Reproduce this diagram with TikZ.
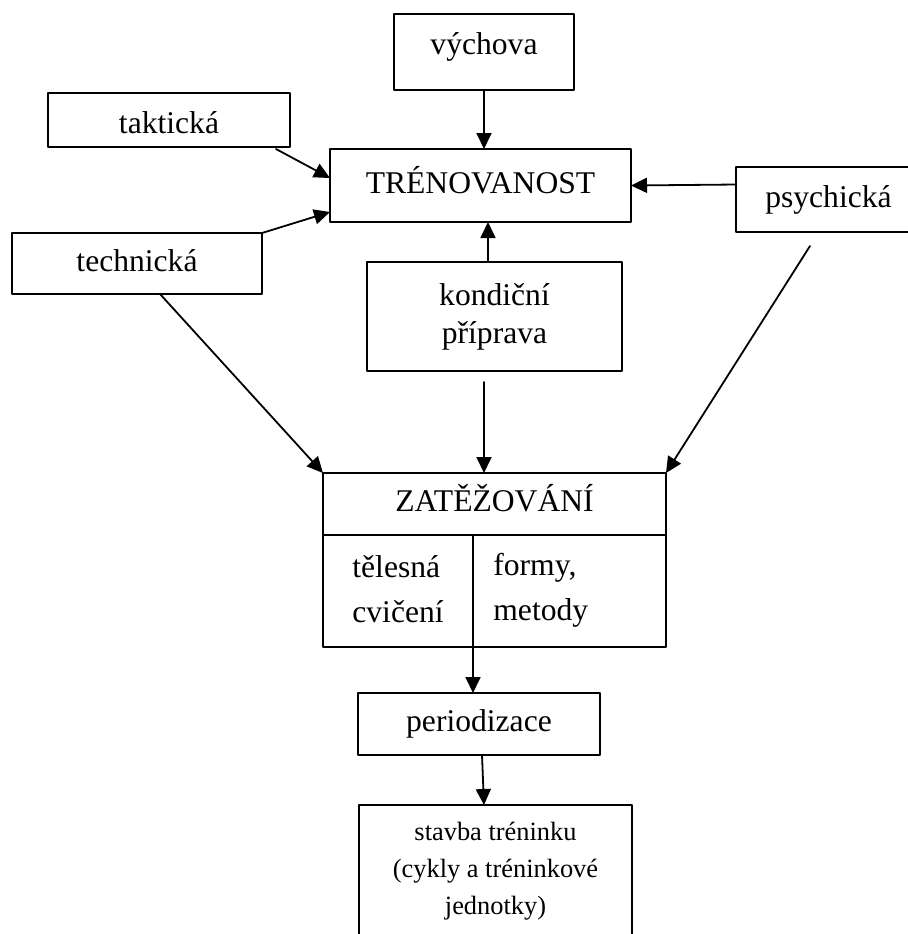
\documentclass[tikz,border=0pt]{standalone}
\usepackage{fontspec}
\setmainfont{Liberation Serif}
\usetikzlibrary{arrows.meta}
\tikzset{
    box/.style = {draw, line width=1pt, inner sep=0pt, outer sep=0pt, align=center,
        font=\fontsize{15.8pt}{19pt}\selectfont},
    onerow/.style = {text height=11pt, text depth=3.5pt},
    cell/.style = {inner sep=0pt, anchor=west, align=left,
        font=\fontsize{15.8pt}{22.5pt}\selectfont},
    arr/.style = {-{Triangle[length=8pt,width=7.5pt]}, line width=0.9pt}
}

\begin{document}
\begin{tikzpicture}[line cap=round,line join=round,x=0.5pt,y=-0.5pt]
    \useasboundingbox (0,0) rectangle (908,934);
    \clip (0,0) rectangle (908,934);

    \node[box, onerow, minimum width=90pt, minimum height=38pt, text depth=8.5pt] (vych) at (484,52) {výchova};
    \node[box, onerow, minimum width=121pt, minimum height=27pt, text height=16pt, text depth=3pt] (takt) at (169,120) {taktická};
    \node[box, onerow, minimum width=150.5pt, minimum height=36.5pt] (tren) at (480.5,185.5) {TRÉNOVANOST};
    \node[box, onerow, minimum width=125pt, minimum height=30.5pt] (tech) at (137,263.5) {technická};
    \node[box, onerow, minimum width=92.5pt, minimum height=32.5pt] (psych) at (828.5,199.5) {psychická};
    \node[box, minimum width=127.5pt, minimum height=54.5pt] (kond) at (494.5,316.5) {kondiční\\příprava};

    % zatezovani
    \node[box, onerow, minimum width=171.5pt, minimum height=31pt] (zat) at (494.5,504) {ZATĚŽOVÁNÍ};
    \node[box, anchor=north, minimum width=171.5pt, minimum height=56pt] (zbody) at (zat.south) {};
    \coordinate (div) at (473,535);
    \draw[line width=1pt] (div) -- (div |- zbody.south);
    \node[cell] (cvic) at (352,589) {tělesná\\cvičení};
    \node[cell] (form) at (493,590) {formy,\\metody};

    \node[box, onerow, minimum width=121pt, minimum height=31pt] (perio) at (479,724) {periodizace};
    \node[box, anchor=north, minimum width=136.5pt, minimum height=66.5pt,
        font=\fontsize{13.2pt}{18.5pt}\selectfont] (stav) at (495.5,805) {stavba tréninku\\(cykly a tréninkové\\jednotky)};

    \draw[arr] (vych.south) -- (vych.south |- tren.north);
    \draw[arr] ([xshift=-7pt,yshift=-1pt]takt.south east) -- ([yshift=3.75pt]tren.west);
    \draw[arr] (tech.north east) -- ([yshift=5pt]tren.south west);
    \draw[arr] ([yshift=7.5pt]psych.west) -- (tren.east);
    \draw[arr] ([xshift=-3.25pt]kond.north) -- ([xshift=-3.25pt]kond.north |- tren.south);

    \draw[arr] ([xshift=11.5pt]tech.south) -- (zat.north west);
    \draw[arr] ([xshift=-5.25pt,yshift=-5.5pt]kond.south) -- ([xshift=-5.25pt]kond.south |- zat.north);
    \draw[arr] ([xshift=-9.25pt,yshift=-7pt]psych.south) -- (zat.north east);

    \draw[arr] (div |- zbody.south) -- (div |- perio.north);
    \draw[arr] ([xshift=1.5pt]perio.south) -- ([xshift=-5.75pt]stav.north);
\end{tikzpicture}
\end{document}
